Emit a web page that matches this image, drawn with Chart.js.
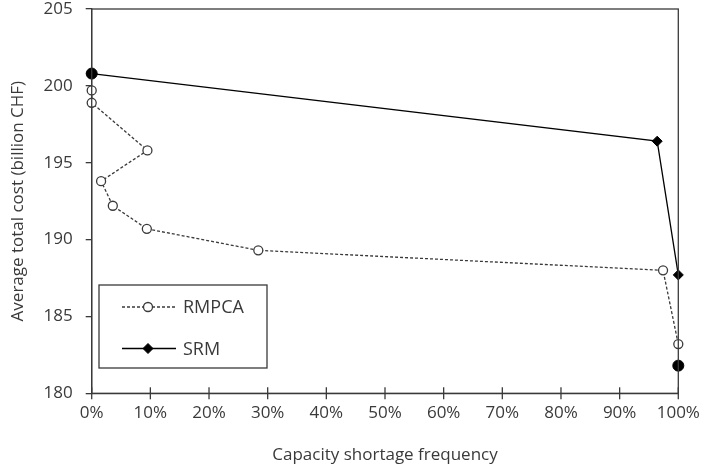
<!DOCTYPE html>
<html>
<head>
<meta charset="utf-8">
<script src="https://cdn.jsdelivr.net/npm/chart.js@4.4.0/dist/chart.umd.min.js"></script>
<style>
html, body { margin: 0; padding: 0; background: #fff; }
</style>
</head>
<body>
<canvas id="chart" width="703" height="470"></canvas>
<script>
// values (x in %, y in billion CHF)
var rmpcaX = [0, 0, 9.5, 1.6, 3.6, 9.4, 28.4, 97.4, 100];
var rmpcaY = [199.7, 198.9, 195.8, 193.8, 192.2, 190.7, 189.3, 188.0, 183.2];
var srmX = [0, 96.4, 100];
var srmY = [200.8, 196.4, 187.7];
// the two filled dots at the ends (not in legend)
var endX = [0, 100];
var endY = [200.8, 181.8];

var xMin = 0, xMax = 100, xStep = 10;
var yMin = 180, yMax = 205, yStep = 5;

var ink = '#3a3a3a';
var fontName = '"Open Sans", sans-serif';

var toPoints = function(xs, ys) {
	return xs.map(function(x, i) { return {x: x, y: ys[i]}; });
};

// frame around plot area + ticks crossing the x axis
var framePlugin = {
	id: 'frame',
	afterDatasetsDraw: function(chart) {
		var ctx = chart.ctx, a = chart.chartArea;
		var xs = chart.scales.x;
		ctx.save();
		ctx.strokeStyle = ink;
		ctx.lineWidth = 1.3;
		ctx.strokeRect(a.left, a.top, a.right - a.left, a.bottom - a.top);
		xs.ticks.forEach(function(t) {
			var px = xs.getPixelForValue(t.value);
			ctx.beginPath();
			ctx.moveTo(px, a.bottom + 6);
			ctx.lineTo(px, a.bottom - 6);
			ctx.stroke();
		});
		ctx.restore();
	}
};

// boxed legend sitting inside the plot, lower left
var boxLegend = {
	id: 'boxLegend',
	afterDraw: function(chart) {
		var ctx = chart.ctx;
		var bx = 99, by = 285, bw = 168, bh = 83;
		ctx.save();
		ctx.fillStyle = '#fff';
		ctx.fillRect(bx, by, bw, bh);
		ctx.strokeStyle = ink;
		ctx.lineWidth = 1.3;
		ctx.strokeRect(bx, by, bw, bh);
		[0, 1].forEach(function(idx, r) {
			var ds = chart.data.datasets[idx];
			var cy = by + 22 + r * 41.5;
			ctx.strokeStyle = ds.borderColor;
			ctx.lineWidth = ds.borderWidth;
			ctx.setLineDash(ds.borderDash || []);
			ctx.beginPath();
			ctx.moveTo(bx + 23, cy);
			ctx.lineTo(bx + 77, cy);
			ctx.stroke();
			ctx.setLineDash([]);
			ctx.fillStyle = ds.pointBackgroundColor;
			ctx.strokeStyle = ds.pointBorderColor;
			ctx.lineWidth = ds.pointBorderWidth;
			Chart.helpers.drawPoint(ctx, {
				pointStyle: ds.pointStyle,
				radius: ds.pointRadius,
				borderWidth: ds.pointBorderWidth
			}, bx + 49, cy);
			ctx.fillStyle = ink;
			ctx.font = '18px ' + fontName;
			ctx.textBaseline = 'middle';
			ctx.fillText(ds.label, bx + 84, cy + 1);
		});
		ctx.restore();
	}
};

var chart = new Chart(document.getElementById('chart'), {
	type: 'scatter',
	data: {
		datasets: [
			{
				label: 'RMPCA',
				data: toPoints(rmpcaX, rmpcaY),
				showLine: true,
				clip: false,
				borderColor: ink,
				borderWidth: 1.3,
				borderDash: [3, 2],
				pointStyle: 'circle',
				pointRadius: 4.5,
				pointBackgroundColor: '#fff',
				pointBorderColor: ink,
				pointBorderWidth: 1.3
			},
			{
				label: 'SRM',
				data: toPoints(srmX, srmY),
				showLine: true,
				clip: false,
				borderColor: '#000',
				borderWidth: 1.3,
				pointStyle: 'rectRot',
				pointRadius: 5,
				pointBackgroundColor: '#000',
				pointBorderColor: '#000',
				pointBorderWidth: 1
			},
			{
				label: 'ends',
				data: toPoints(endX, endY),
				showLine: false,
				clip: false,
				pointStyle: 'circle',
				pointRadius: 5.5,
				pointBackgroundColor: '#000',
				pointBorderColor: '#000',
				pointBorderWidth: 1
			}
		]
	},
	options: {
		responsive: false,
		animation: false,
		devicePixelRatio: 1,
		layout: { padding: { left: 0, top: 9, right: 24.7, bottom: 0 } },
		plugins: {
			legend: { display: false },
			tooltip: { enabled: false }
		},
		scales: {
			x: {
				type: 'linear',
				min: xMin,
				max: xMax,
				afterFit: function(s) {
					s.height = 470 - 393.3;
					s.paddingLeft = 0;
					s.paddingRight = 0;
				},
				grid: { display: false, drawTicks: false },
				border: { display: true, color: ink, width: 1.3 },
				ticks: {
					stepSize: xStep,
					padding: 10,
					color: ink,
					font: { family: fontName, size: 17 },
					callback: function(v) { return v + '%'; }
				},
				title: {
					display: true,
					text: 'Capacity shortage frequency',
					color: ink,
					font: { family: fontName, size: 17 },
					padding: { top: 4, bottom: 5 }
				}
			},
			y: {
				min: yMin,
				max: yMax,
				afterFit: function(s) {
					s.width = 91.7;
					s.paddingTop = 0;
					s.paddingBottom = 0;
				},
				grid: { drawOnChartArea: false, drawTicks: true, tickLength: 6, color: ink, lineWidth: 1.3 },
				border: { display: true, color: ink, width: 1.3 },
				ticks: {
					stepSize: yStep,
					padding: 13,
					color: ink,
					font: { family: fontName, size: 17 }
				},
				title: {
					display: true,
					text: 'Average total cost (billion CHF)',
					color: ink,
					font: { family: fontName, size: 17 },
					padding: { top: 8, bottom: 0 }
				}
			}
		}
	},
	plugins: [framePlugin, boxLegend]
});
</script>
</body>
</html>
